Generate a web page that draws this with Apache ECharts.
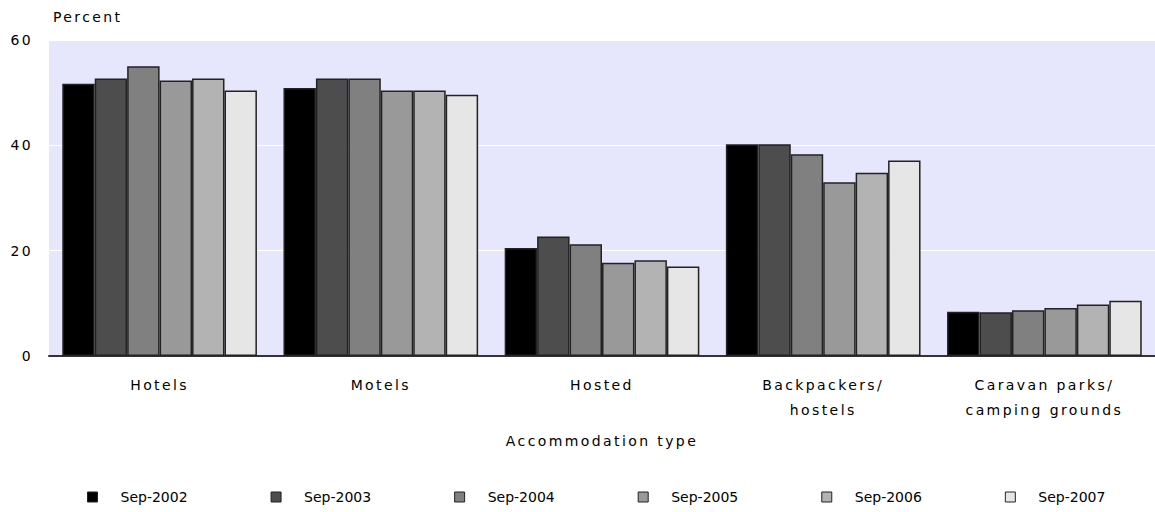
<!DOCTYPE html>
<html>
<head>
<meta charset="utf-8">
<script src="https://cdn.jsdelivr.net/npm/echarts@6/dist/echarts.min.js"></script>
<style>
html,body{margin:0;padding:0;background:#fff;}
#chart{width:1155px;height:512px;}
#chart text[style*="Verdana"]{letter-spacing:2.4px;}
</style>
</head>
<body>
<div id="chart"></div>
<script>
var categories = ['Hotels', 'Motels', 'Hosted', 'Backpackers/\nhostels', 'Caravan parks/\ncamping grounds'];
var seriesNames = ['Sep-2002', 'Sep-2003', 'Sep-2004', 'Sep-2005', 'Sep-2006', 'Sep-2007'];
var sep2002 = [51.7, 50.9, 20.5, 40.2, 8.4];
var sep2003 = [52.7, 52.7, 22.7, 40.2, 8.3];
var sep2004 = [55.0, 52.7, 21.2, 38.3, 8.7];
var sep2005 = [52.3, 50.4, 17.7, 33.0, 9.1];
var sep2006 = [52.7, 50.4, 18.2, 34.8, 9.8];
var sep2007 = [50.4, 49.6, 17.0, 37.1, 10.5];
var yTicks = [0, 20, 40, 60];
var colors = ['#000000', '#4d4d4d', '#808080', '#999999', '#b3b3b3', '#e6e6e6'];

var allValues = [sep2002, sep2003, sep2004, sep2005, sep2006, sep2007];
var spaced = 'Verdana, "DejaVu Sans"';
var plain = '"DejaVu Sans"';
var chart = echarts.init(document.getElementById('chart'), null, {renderer: 'svg'});
chart.setOption({
  animation: false,
  textStyle: {fontFamily: spaced},
  graphic: [{
    type: 'text', left: 53, top: 10,
    style: {text: 'Percent', fontFamily: spaced, fontSize: 14, fill: '#000'}
  }],
  grid: {left: 49, right: 0, top: 40, bottom: 156, show: true, backgroundColor: '#e6e6fc', borderWidth: 0},
  legend: {
    top: 490, left: 87, padding: 0, itemGap: 83, itemWidth: 10, itemHeight: 10, icon: 'rect',
    textStyle: {fontFamily: plain, fontSize: 14, color: '#000', padding: [0, 0, 0, 18]},
    itemStyle: {borderColor: '#222', borderWidth: 1},
    data: seriesNames
  },
  xAxis: {
    type: 'category', data: categories,
    name: 'Accommodation type', nameLocation: 'middle', nameGap: 78,
    nameTextStyle: {fontFamily: spaced, fontSize: 14, color: '#000'},
    axisLine: {lineStyle: {color: '#333', width: 2}},
    axisTick: {show: false},
    axisLabel: {fontFamily: spaced, fontSize: 14, color: '#000', margin: 16, lineHeight: 25}
  },
  yAxis: {
    type: 'value', min: yTicks[0], max: yTicks[yTicks.length - 1], interval: 20,
    axisLine: {show: false}, axisTick: {show: false},
    axisLabel: {fontFamily: spaced, fontSize: 14, color: '#000', margin: 16},
    splitLine: {lineStyle: {color: '#ffffff', width: 1}}
  },
  series: seriesNames.map(function (n, i) {
    return {
      name: n, type: 'bar', data: allValues[i],
      barGap: '0%', barCategoryGap: '12%',
      itemStyle: {color: colors[i], borderColor: '#222', borderWidth: 1.5}
    };
  })
});
</script>
</body>
</html>
